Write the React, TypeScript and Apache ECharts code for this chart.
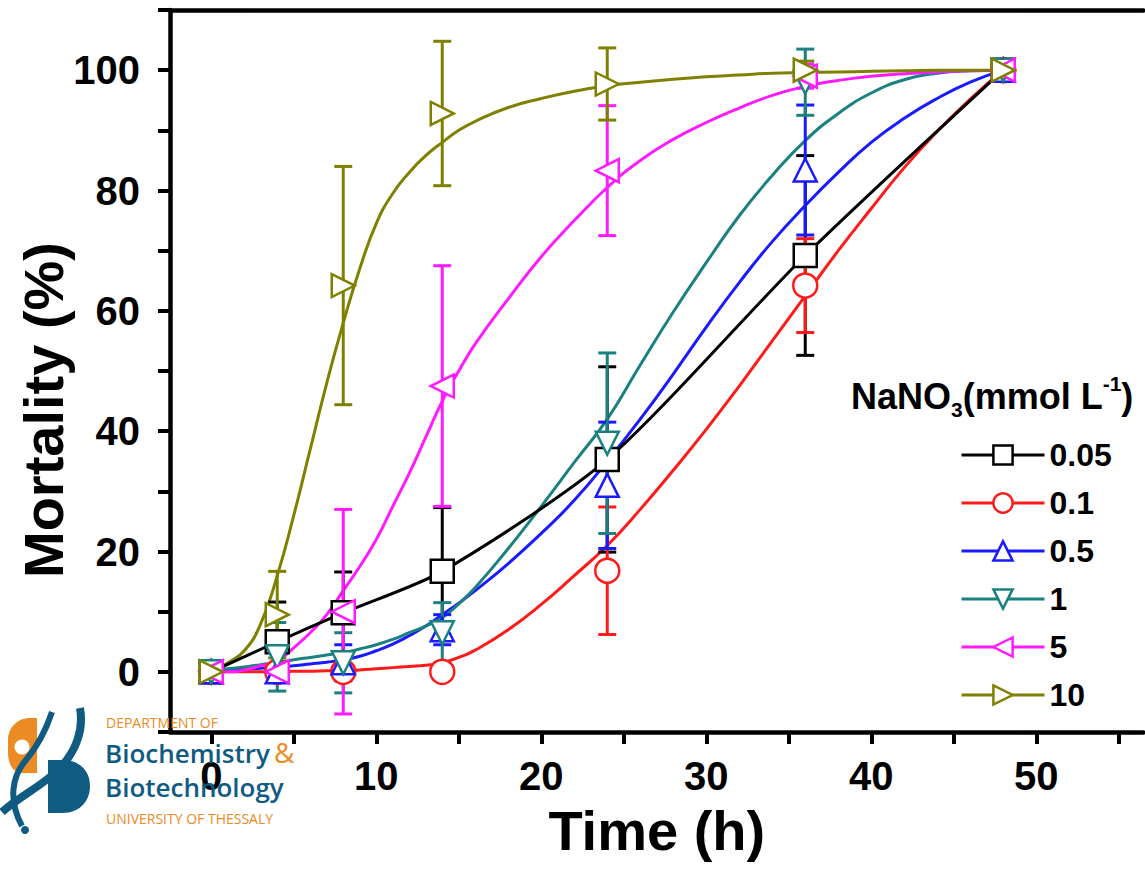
import React, { useEffect, useRef } from "react";
import * as echarts from "echarts";

// ---- data ----
const time = [0, 4, 8, 14, 24, 36, 48];
const seriesNames = ["0.05", "0.1", "0.5", "1", "5", "10"];

const mean005 = [0, 5, 9.8, 16.7, 35.3, 69.2, 100];
const err005 = [0, 6.6, 6.8, 10.6, 15.4, 16.6, 0];
const mean01 = [0, 0, 0, 0, 16.8, 64.2, 100];
const err01 = [0, 0, 0, 0, 10.6, 7.8, 0];
const mean05 = [0, 0, 1.5, 7, 31, 83.4, 100];
const err05 = [0, 1, 3, 2.5, 10.5, 10.8, 0];
const mean1 = [0, 2.5, 1.5, 6.5, 38, 98, 100];
const err1 = [0, 5.7, 5, 5, 15, 5.5, 0];
const mean5 = [0, 0, 10, 47.5, 83.3, 99, 100];
const err5 = [0, 0, 17, 20, 10.8, 2, 0];
const mean10 = [0, 9.5, 64.2, 92.8, 97.7, 100, 100];
const err10 = [0, 7.2, 19.8, 12, 6, 1.5, 0];

// fitted curves at these times
const curveTime = [0, 1, 2, 3, 4, 5, 6, 7, 8, 9, 10, 11, 12, 13, 14, 15, 16, 18, 20, 22, 24, 26, 28, 30, 32, 34, 36, 38, 40, 42, 44, 46, 48];
const curve01 = [0, 0, 0, 0, 0, 0.1, 0.1, 0.2, 0.2, 0.3, 0.5, 0.7, 0.9, 1.1, 1.5, 2.4, 3.6, 7, 11.2, 16, 21, 27, 33.5, 40.3, 47.5, 55, 62.5, 70, 77, 83.8, 89.8, 95.2, 100];
const curve05 = [0, 0.2, 0.4, 0.6, 0.8, 1, 1.3, 1.6, 2, 2.6, 3.5, 4.6, 6, 7.6, 9.5, 11.4, 13.5, 18, 23, 28.5, 35, 42, 49.5, 57.3, 64.7, 71.5, 77.5, 83, 88, 92, 95.3, 98, 100];
const curve1 = [0.3, 0.5, 0.8, 1.2, 1.5, 2, 2.4, 2.8, 3.2, 3.8, 4.5, 5.4, 6.5, 7.6, 9, 11.3, 14, 20.5, 27.5, 34.8, 42, 51, 59.8, 68, 75.8, 82.5, 88.3, 92.8, 96.2, 98.4, 99.5, 99.9, 100];
const curve5 = [0, 0, 0.3, 1, 1.8, 4, 6.5, 9.5, 13.5, 17.5, 22, 27.5, 33, 39, 45, 50, 54.5, 62, 69, 75, 80.5, 85, 88.5, 91.3, 93.7, 95.8, 97.3, 98.3, 99, 99.4, 99.7, 99.9, 100];
const curve10 = [0, 1.5, 3.5, 8, 16, 26, 37, 48, 58, 67, 74.5, 79.5, 83, 85.8, 88, 90, 91.5, 93.8, 95.3, 96.5, 97.4, 98, 98.5, 98.9, 99.2, 99.5, 99.6, 99.7, 99.8, 99.9, 100, 100, 100];

const yLabelValues = [0, 20, 40, 60, 80, 100];
const xLabelValues = [0, 10, 20, 30, 40, 50];
const xTickValues = [0, 5, 10, 15, 20, 25, 30, 35, 40, 45, 50, 55];

const means = [mean005, mean01, mean05, mean1, mean5, mean10];
const errs = [err005, err01, err05, err1, err5, err10];
const curves = [null, curve01, curve05, curve1, curve5, curve10];

const colors = ["#000000", "#ff1a1a", "#1a1aff", "#1a8080", "#ff1aff", "#808000"];
const symbols = [
  "rect",
  "circle",
  "path://M5,0L10,10L0,10Z",
  "path://M0,0L10,0L5,10Z",
  "path://M10,0L10,10L0,5Z",
  "path://M0,0L10,5L0,10Z",
];

const FONT = "'Liberation Sans', Arial, sans-serif";
const LOGO_FONT = "'Open Sans', 'Noto Sans', sans-serif";
const BLUE_LOGO = "#0f5b82";
const ORANGE_LOGO = "#ec8a24";

export default function App() {
  const ref = useRef<HTMLDivElement>(null);

  useEffect(() => {
    if (!ref.current) return;
    echarts.graphic.registerShape(
      "logoOrange",
      echarts.graphic.extendPath("M37,718 L37,773 L22,773 C13,773 8,764 8,752 L8,740 C8,727 18,718 30,718 Z", {})
    );
    echarts.graphic.registerShape(
      "logoD",
      echarts.graphic.extendPath("M48,760 L48,813 L62,813 C81,813 90,800 90,786 C90,772 81,760 62,760 Z M58,769 L58,804 L62,804 C74,804 80,796 80,786 C80,777 74,769 62,769 Z", {})
    );
    echarts.graphic.registerShape(
      "logoStrandA",
      echarts.graphic.extendPath("M80,708 C84,730 76,752 58,770 C42,786 20,796 2,812", {})
    );
    echarts.graphic.registerShape(
      "logoStrandB",
      echarts.graphic.extendPath("M52,712 C46,730 36,748 26,760 C12,776 8,800 22,826", {})
    );

    const chart = echarts.init(ref.current, null, { renderer: "svg" });

    const series: any[] = [];
    means.forEach((m, i) => {
      const c = colors[i];
      const curve = curves[i];
      if (curve) {
        series.push({
          type: "line",
          name: seriesNames[i] + " fit",
          data: curveTime.map((t, j) => [t, curve[j]]),
          smooth: 0.5,
          showSymbol: false,
          symbol: "none",
          lineStyle: { color: c, width: 3 },
          z: 2,
          silent: true,
        });
      }
      const e = errs[i];
      series.push({
        type: "custom",
        name: seriesNames[i] + " err",
        data: time.map((t, j) => [t, m[j] - e[j], m[j] + e[j]]).filter((_, j) => e[j] > 0),
        encode: { x: 0, y: [1, 2] },
        z: 3,
        silent: true,
        renderItem: (params: any, api: any) => {
          const x = api.value(0);
          const lo = api.coord([x, api.value(1)]);
          const hi = api.coord([x, api.value(2)]);
          const hw = 9;
          const style = { stroke: c, lineWidth: 3, fill: "none" };
          return {
            type: "group",
            children: [
              { type: "line", shape: { x1: lo[0], y1: lo[1], x2: hi[0], y2: hi[1] }, style },
              { type: "line", shape: { x1: lo[0] - hw, y1: lo[1], x2: lo[0] + hw, y2: lo[1] }, style },
              { type: "line", shape: { x1: hi[0] - hw, y1: hi[1], x2: hi[0] + hw, y2: hi[1] }, style },
            ],
          };
        },
      });
      series.push({
        type: "line",
        name: seriesNames[i],
        data: time.map((t, j) => [t, m[j]]),
        symbol: symbols[i],
        symbolSize: i === 1 ? 24 : 23,
        showSymbol: true,
        smooth: i === 0 ? 0.25 : false,
        itemStyle: { color: "#ffffff", borderColor: c, borderWidth: 2.5 },
        lineStyle: { color: c, width: i === 0 ? 3 : 0 },
        z: 4,
      });
    });

    const option: any = {
      animation: false,
      backgroundColor: "#ffffff",
      grid: { left: 170, top: 10, right: 1.5, bottom: 137, containLabel: false },
      xAxis: [
        {
          type: "value",
          min: -2.5,
          max: 56.5,
          position: "bottom",
          name: "Time (h)",
          nameLocation: "middle",
          nameGap: 70,
          nameTextStyle: { fontSize: 56, fontWeight: "bold", fontFamily: FONT, color: "#000" },
          axisLine: { show: true, onZero: false, lineStyle: { color: "#000", width: 4.5 } },
          axisTick: { show: true, inside: false, length: 12, customValues: xTickValues, lineStyle: { color: "#000", width: 4 } },
          axisLabel: { show: true, margin: 24, customValues: xLabelValues, fontSize: 40, fontWeight: "bold", fontFamily: FONT, color: "#000" },
          splitLine: { show: false },
        },
        {
          type: "value",
          min: -2.5,
          max: 56.5,
          position: "top",
          axisLine: { show: true, onZero: false, lineStyle: { color: "#000", width: 4.5 } },
          axisTick: { show: false },
          axisLabel: { show: false },
          splitLine: { show: false },
        },
      ],
      yAxis: {
        type: "value",
        min: -10,
        max: 110,
        interval: 10,
        axisLine: { show: true, onZero: false, lineStyle: { color: "#000", width: 4.5 } },
        axisTick: { show: true, inside: false, length: 12, lineStyle: { color: "#000", width: 4 } },
        axisLabel: {
          show: true,
          margin: 30,
          customValues: yLabelValues,
          fontSize: 40,
          fontWeight: "bold",
          fontFamily: FONT,
          color: "#000",
        },
        splitLine: { show: false },
      },
      legend: {
        orient: "vertical",
        left: 955,
        top: 434,
        itemWidth: 83,
        itemHeight: 24,
        itemGap: 16,
        selectedMode: false,
        textStyle: { fontSize: 32, fontWeight: "bold", fontFamily: FONT, color: "#000" },
        data: seriesNames.map((n, i) => ({
          name: n,
          lineStyle: { color: colors[i], width: 3 },
          itemStyle: { color: "#ffffff", borderColor: colors[i], borderWidth: 2.5 },
        })),
      },
      graphic: [
        {
          type: "text",
          x: 43,
          y: 410,
          rotation: Math.PI / 2,
          style: {
            text: "Mortality (%)",
            align: "center",
            verticalAlign: "middle",
            fontSize: 56,
            fontWeight: "bold",
            fontFamily: FONT,
            fill: "#000",
          },
        },
        {
          type: "text",
          x: 851,
          y: 373,
          style: {
            text: "{a|NaNO}{s|3}{a|(mmol L}{p|-1}{a|)}",
            rich: {
              a: { fontSize: 36, fontWeight: "bold", fontFamily: FONT, fill: "#000", lineHeight: 47, verticalAlign: "middle" },
              s: { fontSize: 21, fontWeight: "bold", fontFamily: FONT, fill: "#000", lineHeight: 21, verticalAlign: "bottom" },
              p: { fontSize: 21, fontWeight: "bold", fontFamily: FONT, fill: "#000", lineHeight: 21, verticalAlign: "top" },
            },
          },
        },
        // logo (watermark)
        { type: "logoOrange", x: 0, y: 0, style: { fill: ORANGE_LOGO }, z: 20 },
        { type: "circle", shape: { cx: 22, cy: 747, r: 7.5 }, style: { fill: "#fff" }, z: 21 },
        { type: "logoStrandA", x: 0, y: 0, style: { fill: "none", stroke: BLUE_LOGO, lineWidth: 8 }, z: 22 },
        { type: "logoStrandB", x: 0, y: 0, style: { fill: "none", stroke: BLUE_LOGO, lineWidth: 6 }, z: 22 },
        { type: "logoD", x: 0, y: 0, style: { fill: BLUE_LOGO }, z: 22 },
        { type: "circle", shape: { cx: 25, cy: 830, r: 4 }, style: { fill: BLUE_LOGO }, z: 22 },
        {
          type: "text", x: 106, y: 729, z: 22,
          style: { text: "DEPARTMENT OF", fontSize: 14, fontFamily: LOGO_FONT, fill: ORANGE_LOGO, verticalAlign: "bottom" },
        },
        {
          type: "text", x: 105, y: 766, z: 22,
          style: { text: "Biochemistry", fontSize: 26, fontWeight: 600, fontFamily: LOGO_FONT, fill: BLUE_LOGO, verticalAlign: "bottom" },
        },
        {
          type: "text", x: 274, y: 766, z: 22,
          style: { text: "&", fontSize: 28, fontFamily: LOGO_FONT, fill: ORANGE_LOGO, verticalAlign: "bottom" },
        },
        {
          type: "text", x: 105, y: 800, z: 22,
          style: { text: "Biotechnology", fontSize: 26, fontWeight: 600, fontFamily: LOGO_FONT, fill: BLUE_LOGO, verticalAlign: "bottom" },
        },
        {
          type: "text", x: 106, y: 825, z: 22,
          style: { text: "UNIVERSITY OF THESSALY", fontSize: 14, fontFamily: LOGO_FONT, fill: ORANGE_LOGO, verticalAlign: "bottom" },
        },
      ],
      series,
    };

    chart.setOption(option);
    return () => chart.dispose();
  }, []);

  return (
    <div
      ref={ref}
      style={{ position: "absolute", left: 0, top: 0, width: 1145, height: 869, background: "#fff" }}
    />
  );
}
